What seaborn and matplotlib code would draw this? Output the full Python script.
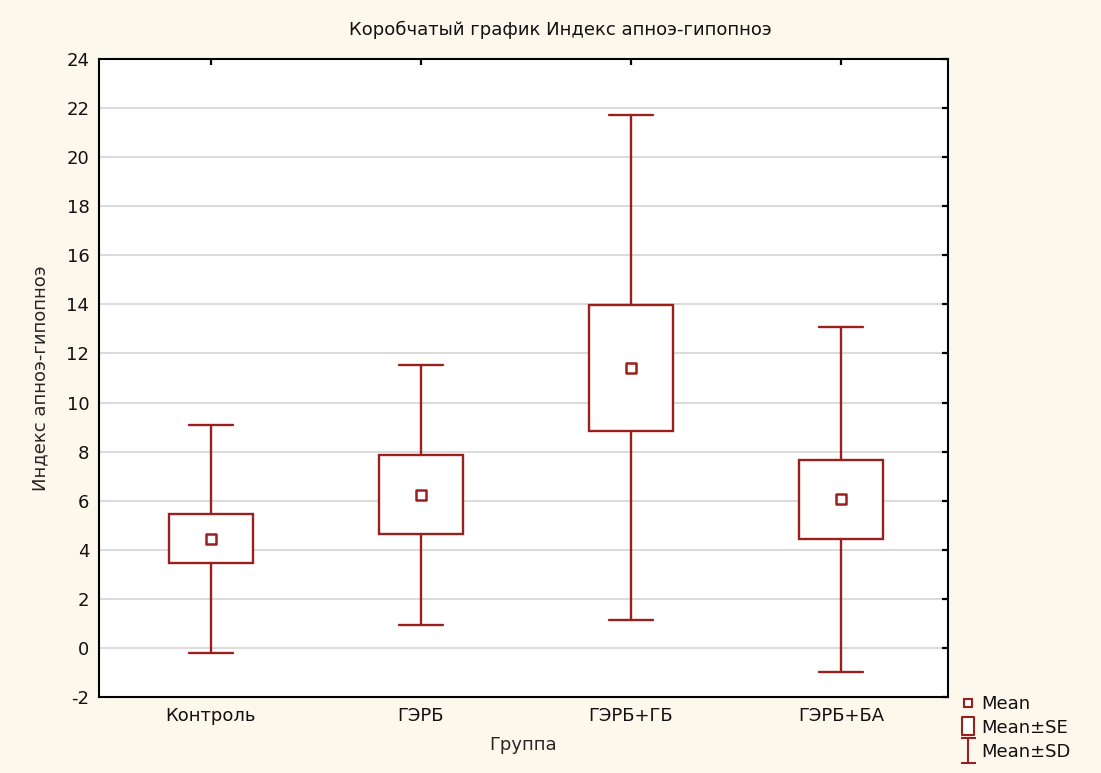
import matplotlib
matplotlib.use("Agg")
import matplotlib.pyplot as plt
from matplotlib.lines import Line2D
from matplotlib.path import Path
import seaborn as sns
import pandas as pd

# Group statistics: mean, standard error, standard deviation
groups = ["Контроль", "ГЭРБ", "ГЭРБ+ГБ", "ГЭРБ+БА"]
means = [4.45, 6.25, 11.42, 6.05]
se = [1.00, 1.60, 2.57, 1.60]
sd = [4.65, 5.30, 10.30, 7.02]

y_ticks = list(range(-2, 25, 2))

color = "#9A1F1F"
fs = 13
sns.set_theme(style="white")
plt.rcParams["font.family"] = ["DejaVu Sans"]
plt.rcParams["text.color"] = "#111111"

fig = plt.figure(figsize=(11.01, 7.73), dpi=100, facecolor="#FDF8EC")
ax = fig.add_axes([0.0899, 0.0983, 0.7711, 0.8254])
ax.set_facecolor("white")

df = pd.DataFrame({"group": groups, "mean": means, "se": se, "sd": sd})

# Box = mean ± SE, whiskers = mean ± SD
stats = [
    dict(med=m, mean=m, q1=m - s, q3=m + s, whislo=m - d, whishi=m + d, fliers=[], label=g)
    for g, m, s, d in zip(df["group"], df["mean"], df["se"], df["sd"])
]
ax.bxp(stats, positions=range(len(groups)), widths=0.4, showfliers=False,
       patch_artist=True,
       boxprops=dict(facecolor="white", edgecolor=color, linewidth=1.7),
       whiskerprops=dict(color=color, linewidth=1.7),
       capprops=dict(color=color, linewidth=1.7),
       medianprops=dict(linewidth=0), capwidths=0.21, zorder=3)

sns.scatterplot(data=df, x=range(len(groups)), y="mean", marker="s", s=45,
                facecolor="white", edgecolor=color, linewidth=1.8, ax=ax, zorder=4)

ax.set_xlim(-0.533, 3.51)
ax.set_ylim(-2, 24)
ax.set_yticks(y_ticks)
ax.set_yticklabels([str(t) for t in y_ticks], fontsize=fs)
ax.set_xticks(range(len(groups)))
ax.set_xticklabels(groups, fontsize=fs)
ax.yaxis.grid(True, color="#D9D9D9", linewidth=1.3)
ax.set_axisbelow(True)
ax.tick_params(axis="both", direction="in", length=4.5, width=1.6, color="black", pad=7,
               right=True, top=True, labelcolor="#111111")
for sp in ax.spines.values():
    sp.set_color("black")
    sp.set_linewidth(1.5)

fig.text(560 / 1101, 1 - 30 / 773, "Коробчатый график Индекс апноэ-гипопноэ",
         fontsize=fs, ha="center", va="center")
ax.set_xlabel("Группа", fontsize=fs, labelpad=8)
ax.set_ylabel("Индекс апноэ-гипопноэ", fontsize=fs, labelpad=12)

# Legend entries
ibar = Path([(-0.3, 0.5), (0.3, 0.5), (0, 0.5), (0, -0.5), (-0.3, -0.5), (0.3, -0.5)],
            [Path.MOVETO, Path.LINETO, Path.MOVETO, Path.LINETO, Path.MOVETO, Path.LINETO])
serect = Path([(-0.37, -0.5), (0.37, -0.5), (0.37, 0.5), (-0.37, 0.5), (-0.37, -0.5)],
              [Path.MOVETO, Path.LINETO, Path.LINETO, Path.LINETO, Path.CLOSEPOLY])
handles = [
    Line2D([], [], linestyle="none", marker="s", markersize=5.5, markerfacecolor="white",
           markeredgecolor=color, markeredgewidth=1.5),
    Line2D([], [], linestyle="none", marker=serect, markersize=12.5, markerfacecolor="white",
           markeredgecolor=color, markeredgewidth=1.5),
    Line2D([], [], linestyle="none", marker=ibar, markersize=18, markerfacecolor="none",
           markeredgecolor=color, markeredgewidth=1.5),
]
fig.legend(handles, ["Mean", "Mean±SE", "Mean±SD"], loc="upper left",
           bbox_to_anchor=(960 / 1101, 1 - 695 / 773), frameon=False,
           prop=dict(size=fs),
           handlelength=0.9, handletextpad=0.3, labelspacing=0.32, borderpad=0.0,
           borderaxespad=0.0)

fig.savefig("out.png", dpi=100, facecolor=fig.get_facecolor())
